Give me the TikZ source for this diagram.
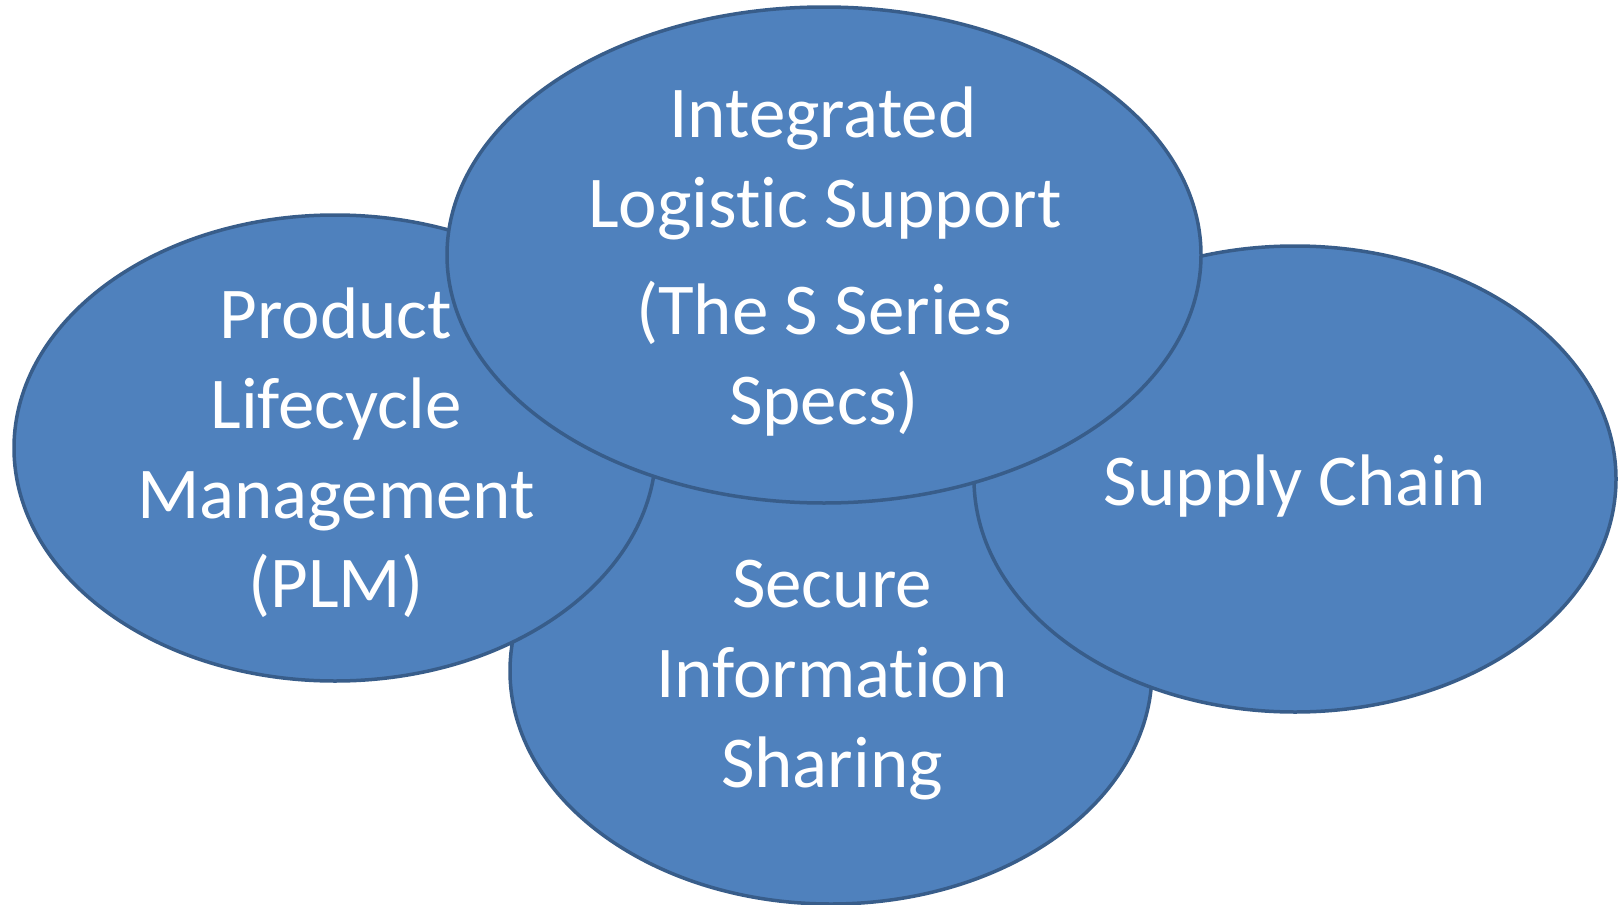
\documentclass[tikz,border=0pt]{standalone}
\usepackage{fontspec}
\setmainfont{Carlito}[Ligatures={NoCommon}]
\usetikzlibrary{shapes.geometric}
\definecolor{fillblue}{HTML}{4F81BD}
\definecolor{edgeblue}{HTML}{385D8A}
\begin{document}
\begin{tikzpicture}[x=1pt,y=-1pt,
  bubble/.style={ellipse, draw=edgeblue, fill=fillblue, line width=3.5pt, inner sep=0pt, outer sep=0pt},
  smallbubble/.style={bubble, minimum width=642pt, minimum height=466pt},
  bigbubble/.style={bubble, minimum width=754pt, minimum height=496pt},
  lbl/.style={anchor=base, text=white, inner sep=0pt, font=\fontsize{73}{89}\selectfont}]
\useasboundingbox (0,0) rectangle (1618,905);
% ellipses, back to front
\node[smallbubble] (sis) at (831,671) {};
\node[smallbubble] (plm) at (335,448) {};
\node[smallbubble] (sc) at (1295,479) {};
\node[bigbubble] (ils) at (824,255) {};
% PLM text
\node[lbl] (plm1) at (336,338) {Product};
\node[lbl] (plm2) at (336,428) {Lifecycle};
\node[lbl] (plm3) at (336,518) {Management};
\node[lbl] (plm4) at (336,607) {(PLM)};
% ILS text
\node[lbl] (ils1) at (823,137) {Integrated};
\node[lbl] (ils2) at (825,227) {Logistic Support};
\node[lbl] (ils3) at (824,334) {(The S Series};
\node[lbl] (ils4) at (824,424) {Specs)};
% Secure text
\node[lbl] (sis1) at (832,607) {Secure};
\node[lbl] (sis2) at (832,697) {Information};
\node[lbl] (sis3) at (832,787) {Sharing};
% Supply chain text
\node[lbl] (sc1) at (1295,505) {Supply Chain};
\end{tikzpicture}
\end{document}
